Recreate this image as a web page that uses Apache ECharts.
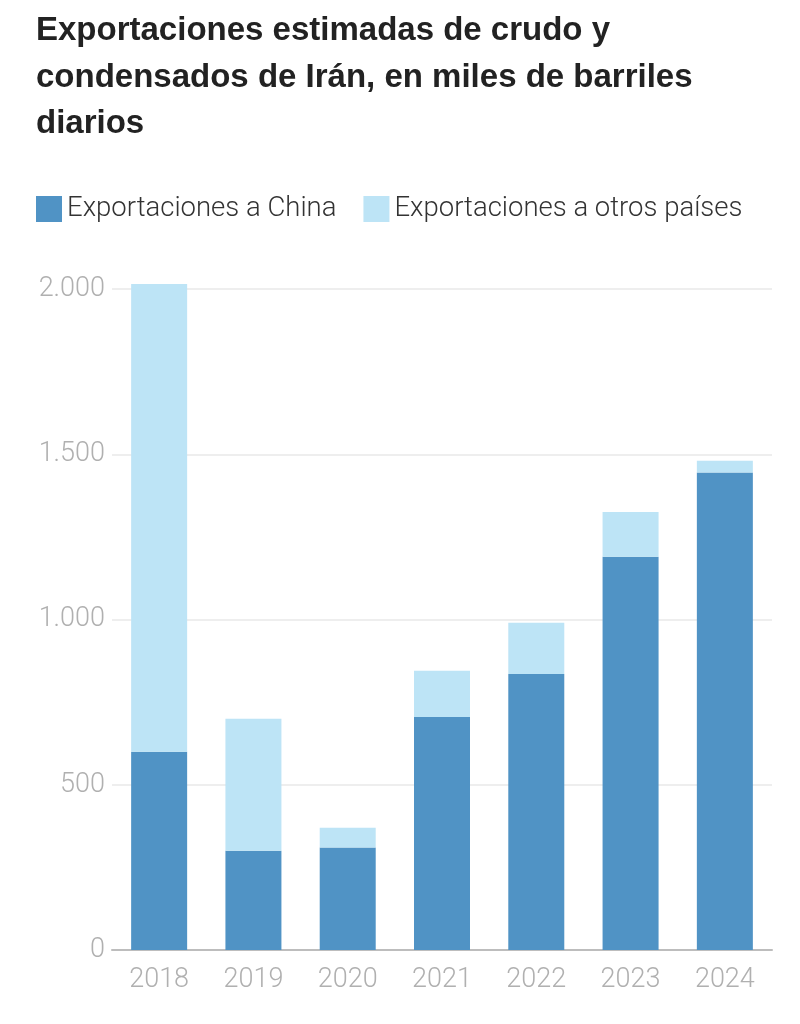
<!DOCTYPE html>
<html>
<head>
<meta charset="utf-8">
<script src="https://cdn.jsdelivr.net/npm/echarts@6/dist/echarts.min.js"></script>
<style>
  html, body { margin: 0; padding: 0; background: #fff; }
  #chart { width: 800px; height: 1024px; }
</style>
</head>
<body>
<div id="chart"></div>
<script>
var years = ['2018', '2019', '2020', '2021', '2022', '2023', '2024'];
// miles de barriles diarios
var toChina = [600, 300, 310, 705, 835, 1190, 1445];
var toOthers = [1415, 400, 60, 140, 155, 135, 35];
var yTicks = [0, 500, 1000, 1500, 2000];

var chart = echarts.init(document.getElementById('chart'));

var fmtMiles = function (v) {
    return String(v).replace(/\B(?=(\d{3})+(?!\d))/g, '.');
};

chart.setOption({
    animation: false,
    title: {
        text: 'Exportaciones estimadas de crudo y\ncondensados de Irán, en miles de barriles\ndiarios',
        left: 36,
        top: 8,
        padding: 0,
        textStyle: {
            fontFamily: 'Liberation Sans',
            fontWeight: 'bold',
            fontSize: 33,
            lineHeight: 46.5,
            color: '#222'
        }
    },
    legend: {
        left: 36,
        top: 195,
        padding: 0,
        itemWidth: 26,
        itemHeight: 26,
        itemGap: 27,
        icon: 'rect',
        textStyle: {
            fontFamily: 'Roboto',
            fontWeight: 300,
            fontSize: 27.5,
            color: '#333'
        },
        data: ['Exportaciones a China', 'Exportaciones a otros países']
    },
    grid: {
        left: 112,
        right: 28,
        top: 289,
        bottom: 74
    },
    xAxis: {
        type: 'category',
        data: years,
        axisTick: { show: false },
        axisLine: { lineStyle: { color: '#bdbdbd', width: 2 } },
        axisLabel: {
            margin: 17,
            fontFamily: 'Roboto',
            fontWeight: 300,
            fontSize: 27,
            color: '#b0b0b0'
        }
    },
    yAxis: {
        type: 'value',
        min: yTicks[0],
        max: yTicks[yTicks.length - 1],
        interval: yTicks[1] - yTicks[0],
        axisLine: { show: false },
        axisTick: { show: false },
        splitLine: { lineStyle: { color: '#e8e8e8', width: 1.5 } },
        axisLabel: {
            margin: 7,
            fontFamily: 'Roboto',
            fontWeight: 300,
            fontSize: 27,
            color: '#b0b0b0',
            formatter: fmtMiles
        }
    },
    series: [{
        name: 'Exportaciones a China',
        type: 'bar',
        stack: 'total',
        barWidth: 56,
        itemStyle: { color: '#5093c5' },
        data: toChina
    }, {
        name: 'Exportaciones a otros países',
        type: 'bar',
        stack: 'total',
        barWidth: 56,
        clip: false,
        itemStyle: { color: '#bde4f6' },
        data: toOthers
    }]
});
window.onresize = chart.resize;
</script>
</body>
</html>
